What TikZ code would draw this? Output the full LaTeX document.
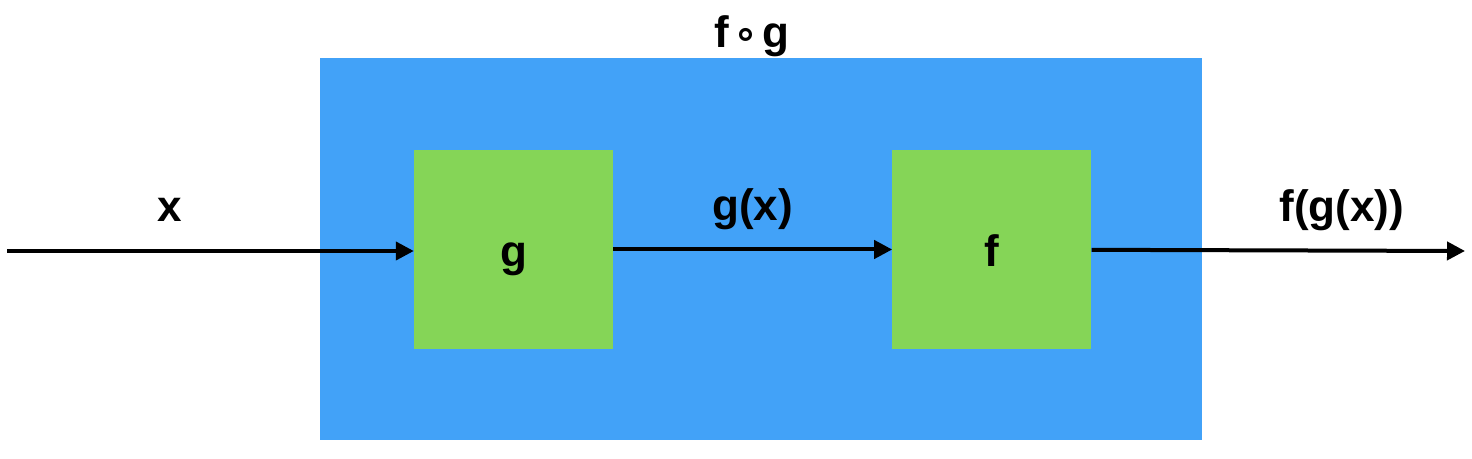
\documentclass[tikz,border=0pt]{standalone}
\usepackage{fontspec}
\setmainfont{Liberation Sans}
\newfontfamily\symfont{DejaVu Sans}
\usepackage{tikz}
\usetikzlibrary{arrows.meta,positioning}
\definecolor{compblue}{HTML}{42A2F8}
\definecolor{fungreen}{HTML}{85D557}

\begin{document}
\begin{tikzpicture}[
    x=1pt,y=1pt,
    node distance=279pt,
    box/.style={fill=fungreen,minimum width=199pt,minimum height=199pt,inner sep=0pt,
      text height=34pt,text depth=0pt},
    lbl/.style={font=\fontsize{44}{50}\selectfont\bfseries},
    arrlbl/.style={lbl,inner sep=0pt,text depth=0pt,above=27pt},
    >={Triangle[length=18pt,width=18pt]}]
  \useasboundingbox (0,0) rectangle (1472,458);
  \node[fill=compblue,minimum width=882pt,minimum height=382pt,inner sep=0pt] (comp) at (761,209) {};
  \node[lbl,anchor=base] (compname) at (752,410) {f\hspace{4pt}{\symfont\fontsize{40}{40}\selectfont∘}\hspace{4pt}g};
  \node[box,lbl] (gbox) at (513.5,208.5) {g};
  \node[box,lbl,right=of gbox] (fbox) {f};
  \coordinate (in) at (7,207);
  \coordinate (out) at (1465,207);
  \draw[->,line width=4pt] (in) -- node[arrlbl,pos=0.4]{x} (in -| gbox.west);
  \draw[->,line width=4pt] (gbox) -- node[arrlbl]{g(x)} (fbox);
  \draw[->,line width=4pt] (fbox) -- node[arrlbl,pos=0.67]{f(g(x))} (out);
\end{tikzpicture}
\end{document}
